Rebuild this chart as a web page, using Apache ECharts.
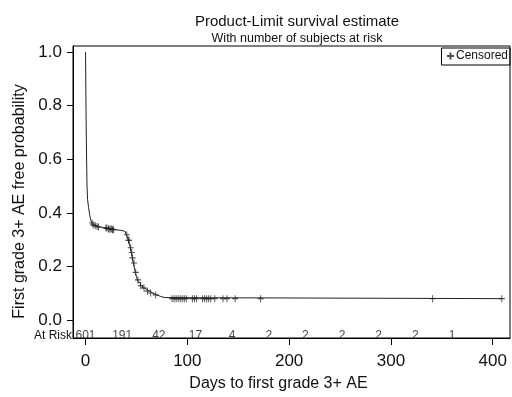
<!DOCTYPE html>
<html>
<head>
<meta charset="utf-8">
<script src="https://cdn.jsdelivr.net/npm/echarts@6/dist/echarts.min.js"></script>
<style>html,body{margin:0;padding:0;background:#fff;}#c{width:512px;height:397px;}</style>
</head>
<body>
<div id="c"></div>
<script>
// Kaplan-Meier step function (time in days, survival probability after event)
const kmTimes = [0, 0.5, 1, 1.5, 2, 3, 4, 5, 6, 7, 8, 10, 12, 15, 18, 22, 26, 30, 34, 37, 39, 40, 41, 42, 43, 44, 45, 46, 47, 48, 49, 50, 51, 52, 54, 56, 58, 60, 63, 66, 70, 74, 78, 409];
const kmSurv  = [1.0, 0.785, 0.612, 0.496, 0.45, 0.42, 0.395, 0.375, 0.362, 0.355, 0.352, 0.349, 0.347, 0.345, 0.343, 0.340, 0.337, 0.335, 0.333, 0.330, 0.325, 0.318, 0.310, 0.298, 0.285, 0.270, 0.252, 0.232, 0.213, 0.195, 0.178, 0.163, 0.150, 0.140, 0.128, 0.120, 0.114, 0.108, 0.101, 0.094, 0.088, 0.084, 0.080, 0.080];
// Censored observation times
const censorTimes = [6.5, 7.5, 9.5, 11.4, 12.7, 20, 21, 22.5, 23.2, 24.8, 25.8, 26.5, 27.5,
  40.6, 42.2, 42.8, 44.4, 45.4, 46.1, 47.6, 49.3, 51.5, 54.2, 57.4, 60.8, 64, 68.9,
  85, 87, 89, 91, 93, 95, 97, 99, 105, 107, 109, 115, 117, 119, 121, 123, 127, 135, 139, 147, 172, 341, 409];
// Number at risk table
const atRiskTimes  = [0, 36, 72, 108, 144, 180, 216, 252, 288, 324, 360];
const atRiskCounts = [601, 191, 42, 17, 4, 2, 2, 2, 2, 2, 1];
// Tick values
const xTicks = [0, 100, 200, 300, 400];
const yTicks = [0, 0.2, 0.4, 0.6, 0.8, 1.0];

function survAt(t) {
  let s = kmSurv[0];
  for (let i = 0; i < kmTimes.length; i++) { if (kmTimes[i] <= t) s = kmSurv[i]; else break; }
  return s;
}

const FONT = '"Liberation Sans", Arial, sans-serif';
const plusPath = 'path://M0,5L10,5M5,0L5,10';

const chart = echarts.init(document.getElementById('c'), null, {renderer: 'canvas'});
chart.setOption({
  animation: false,
  backgroundColor: '#fff',
  textStyle: {fontFamily: FONT},
  title: {
    text: 'Product-Limit survival estimate',
    subtext: 'With number of subjects at risk',
    left: 297, top: 14, padding: 0, textAlign: 'center', itemGap: 3,
    textStyle: {fontSize: 15, fontWeight: 'normal', color: '#111', fontFamily: FONT},
    subtextStyle: {fontSize: 12.5, color: '#111', fontFamily: FONT}
  },
  legend: {
    data: ['Censored'],
    right: 2, top: 48,
    padding: [2, 2, 3, 3],
    borderColor: '#000', borderWidth: 1,
    itemWidth: 7, itemHeight: 7,
    icon: plusPath,
    textStyle: {fontSize: 12, color: '#111', fontFamily: FONT, padding: [0, 0, 0, -3]}
  },
  grid: {left: 73, right: 2, top: 46, bottom: 57, show: true, borderColor: '#000', borderWidth: 1, containLabel: false},
  xAxis: {
    type: 'value', min: -12.3, max: 417,
    name: 'Days to first grade 3+ AE', nameLocation: 'middle', nameGap: 38,
    nameTextStyle: {fontSize: 16, color: '#111', fontFamily: FONT, padding: [0, 26, 0, 0]},
    axisLine: {show: true, onZero: false, lineStyle: {color: '#000', width: 1}},
    axisTick: {show: true, length: 7, inside: false, customValues: xTicks, lineStyle: {color: '#000'}},
    axisLabel: {customValues: xTicks, fontSize: 17, color: '#111', margin: 15, fontFamily: FONT},
    splitLine: {show: false}
  },
  yAxis: {
    type: 'value', min: -0.0667, max: 1.022,
    name: 'First grade 3+ AE free probability', nameLocation: 'middle', nameGap: 42,
    nameTextStyle: {fontSize: 16, color: '#111', fontFamily: FONT, padding: [0, 19, 0, 0]},
    axisLine: {show: true, onZero: false, lineStyle: {color: '#000', width: 1}},
    axisTick: {show: true, length: 6, inside: false, customValues: yTicks, lineStyle: {color: '#000'}},
    axisLabel: {customValues: yTicks, fontSize: 17, color: '#111', margin: 11, fontFamily: FONT,
      formatter: v => v.toFixed(1)},
    splitLine: {show: false}
  },
  graphic: [{
    type: 'text', right: 512 - 72, top: 330,
    style: {text: 'At Risk', fontSize: 12, fill: '#111', fontFamily: FONT}
  }],
  series: [
    {
      name: 'Survival', type: 'line', step: 'end', showSymbol: false,
      lineStyle: {color: '#222', width: 1},
      data: kmTimes.map((t, i) => [t, kmSurv[i]]),
      z: 2
    },
    {
      name: 'Censored', type: 'scatter', symbol: plusPath, symbolSize: [6, 7],
      itemStyle: {color: 'none', borderColor: '#222', borderWidth: 1},
      data: censorTimes.map(t => [t, survAt(t)]),
      z: 3
    },
    {
      name: 'At Risk', type: 'scatter', symbolSize: 1, silent: true,
      itemStyle: {color: 'rgba(0,0,0,0)'},
      label: {show: true, position: 'inside', fontSize: 12, color: '#111', fontFamily: FONT,
        formatter: p => String(p.value[2])},
      data: atRiskTimes.map((t, i) => [t, -0.057, atRiskCounts[i]]),
      z: 4
    }
  ]
});
</script>
</body>
</html>
